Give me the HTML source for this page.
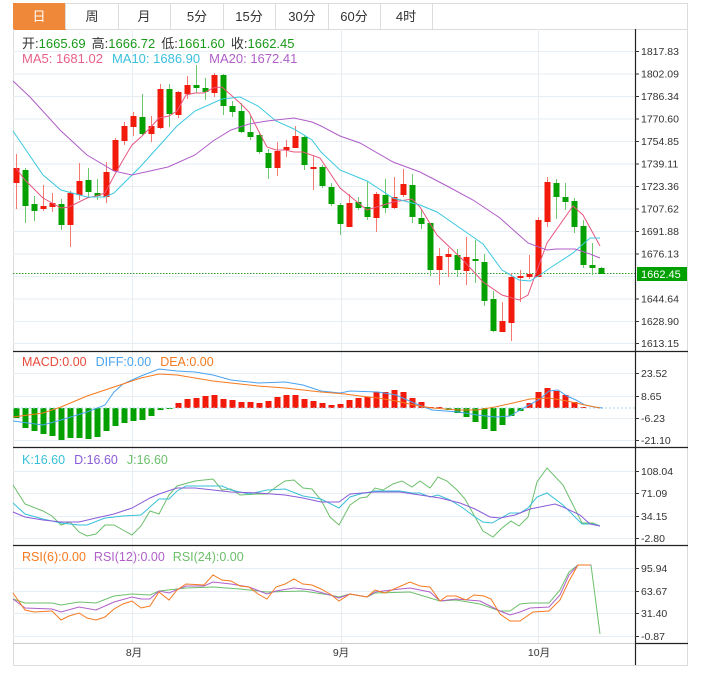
<!DOCTYPE html>
<html><head><meta charset="utf-8"><style>
html,body{margin:0;padding:0;background:#fff;}
svg{display:block;font-family:"Liberation Sans","Noto Sans CJK SC",sans-serif;}
</style></head><body>
<svg id="s" width="703" height="678" viewBox="0 0 703 678" xmlns="http://www.w3.org/2000/svg">
<rect width="703" height="678" fill="#fff"/>
<rect x="13.5" y="3.5" width="674" height="26" fill="#fff" stroke="#dcdcdc"/>
<rect x="13.5" y="3.5" width="52" height="26" fill="#f0883a" stroke="#f0883a"/>
<g stroke="#dcdcdc"><line x1="65.5" y1="3" x2="65.5" y2="29"/><line x1="118.5" y1="3" x2="118.5" y2="29"/><line x1="170.5" y1="3" x2="170.5" y2="29"/><line x1="223.5" y1="3" x2="223.5" y2="29"/><line x1="275.5" y1="3" x2="275.5" y2="29"/><line x1="328.5" y1="3" x2="328.5" y2="29"/><line x1="380.5" y1="3" x2="380.5" y2="29"/><line x1="432.5" y1="3" x2="432.5" y2="29"/></g>
<g font-size="13" fill="#333" text-anchor="middle">
<text x="39" y="21" fill="#fff">日</text><text x="92" y="21">周</text><text x="144" y="21">月</text><text x="197" y="21">5分</text><text x="249" y="21">15分</text><text x="302" y="21">30分</text><text x="354" y="21">60分</text><text x="406" y="21">4时</text>
</g>
<line x1="13.5" y1="29" x2="13.5" y2="665" stroke="#dcdcdc"/>
<line x1="687.5" y1="29" x2="687.5" y2="665" stroke="#dcdcdc"/>
<line x1="13" y1="665.5" x2="688" y2="665.5" stroke="#dcdcdc"/>
<g id="grid" stroke="#e6eef3" stroke-width="1"></g>
<g id="plot"></g>
<g stroke="#222" stroke-width="1.2">
<line x1="13" y1="351.5" x2="688" y2="351.5"/><line x1="13" y1="447.5" x2="688" y2="447.5"/><line x1="13" y1="545.5" x2="688" y2="545.5"/><line x1="635.5" y1="29" x2="635.5" y2="665"/><line x1="635" y1="643.5" x2="688" y2="643.5"/>
</g>
<line x1="13" y1="643.5" x2="635" y2="643.5" stroke="#ccc"/>
<g id="axis" font-size="10.5" fill="#333"></g>
<rect x="637" y="267" width="50" height="14" fill="#00a000"/>
<text x="641" y="278" font-size="11" fill="#fff">1662.45</text>
<g font-size="10.5" fill="#333" text-anchor="middle"><text x="134" y="656">8月</text><text x="341" y="656">9月</text><text x="539" y="656">10月</text></g>
<g font-size="13">
<text x="22" y="48"><tspan fill="#333">开:</tspan><tspan fill="#1a9a1a">1665.69</tspan><tspan fill="#333" dx="6">高:</tspan><tspan fill="#1a9a1a">1666.72</tspan><tspan fill="#333" dx="6">低:</tspan><tspan fill="#1a9a1a">1661.60</tspan><tspan fill="#333" dx="6">收:</tspan><tspan fill="#1a9a1a">1662.45</tspan></text>
<text x="22" y="63"><tspan fill="#e8608a">MA5: 1681.02</tspan><tspan fill="#3ac0dc" dx="9">MA10: 1686.90</tspan><tspan fill="#b060c8" dx="9">MA20: 1672.41</tspan></text>
</g>
<g font-size="12.5">
<text x="22" y="366"><tspan fill="#e84a3c">MACD:0.00</tspan><tspan fill="#4aa3f0" dx="9">DIFF:0.00</tspan><tspan fill="#f57a20" dx="9">DEA:0.00</tspan></text>
<text x="22" y="464"><tspan fill="#38c0d8">K:16.60</tspan><tspan fill="#8a5cd8" dx="9">D:16.60</tspan><tspan fill="#6cbf6c" dx="9">J:16.60</tspan></text>
<text x="22" y="561"><tspan fill="#f57a20">RSI(6):0.00</tspan><tspan fill="#b060c8" dx="8">RSI(12):0.00</tspan><tspan fill="#6cbf6c" dx="8">RSI(24):0.00</tspan></text>
</g>
</svg>
<script>
var NS="http://www.w3.org/2000/svg";
function el(p,t,a){var e=document.createElementNS(NS,t);for(var k in a)e.setAttribute(k,a[k]);document.getElementById(p).appendChild(e);return e;}
var py=[51,73.5,96,118.5,141,163.5,186,208.5,231,253.5,276,298.5,321,343];
var pl=["1817.83","1802.09","1786.34","1770.60","1754.85","1739.11","1723.36","1707.62","1691.88","1676.13","","1644.64","1628.90","1613.15"];
var others=[[373,"23.52"],[396,"8.65"],[418,"-6.23"],[440,"-21.10"],[471,"108.04"],[493,"71.09"],[516,"34.15"],[538,"-2.80"],[568,"95.94"],[591,"63.67"],[613,"31.40"],[636,"-0.87"]];
py.forEach(function(y,i){el("grid","line",{x1:13,x2:635,y1:y+.5,y2:y+.5});if(pl[i]){el("axis","line",{x1:635,x2:639,y1:y+.5,y2:y+.5,stroke:"#333"});el("axis","text",{x:641,y:y+4}).textContent=pl[i];}});
others.forEach(function(o){el("grid","line",{x1:13,x2:635,y1:o[0]+.5,y2:o[0]+.5});el("axis","line",{x1:635,x2:639,y1:o[0]+.5,y2:o[0]+.5,stroke:"#333"});el("axis","text",{x:641,y:o[0]+4}).textContent=o[1];});
[132.5,341.5,538.5].forEach(function(x){el("grid","line",{x1:x,x2:x,y1:29,y2:643});});
el("plot","line",{x1:13,x2:635,y1:273.5,y2:273.5,stroke:"#2ca02c","stroke-dasharray":"1.5,1.5"});
var R="#f21a0b",G="#04a000";
var C=[[168,183,154,209,R],[170,206,168,223,G],[204,211,196,221,G],[206,209,185,211,R],[203,207,193,212,R],[204,225,199,230,G],[193,225,191,247,R],[181,195,163,200,R],[180,192,168,197,G],[193,196,179,200,G],[172,197,162,203,R],[140,171,138,172,R],[126,141,122,145,R],[116,127,112,136,R],[117,134,94,135,G],[126,134,116,142,R],[89,128,84,129,R],[89,114,84,127,G],[92,115,91,118,R],[85,94,76,99,R],[85,88,65,93,G],[88,92,78,100,G],[75,93,73,97,R],[75,106,74,115,G],[106,112,101,117,G],[111,132,103,133,G],[132,137,116,140,G],[135,152,132,154,G],[153,168,149,179,G],[151,168,142,176,R],[147,150,140,157,R],[136,148,126,148,R],[137,165,135,170,G],[167,169,155,190,R],[167,186,165,188,G],[187,204,183,206,G],[205,224,203,235,G],[203,227,194,227,R],[202,208,197,210,G],[207,217,181,220,G],[194,218,192,232,R],[195,208,179,213,G],[197,208,177,209,R],[184,195,169,197,R],[185,217,174,223,G],[218,224,209,229,G],[223,270,223,276,G],[256,270,248,285,R],[254,257,248,277,R],[255,270,249,277,G],[257,271,237,285,R],[259,261,240,283,G],[262,301,254,306,G],[299,331,291,332,G],[321,332,302,332,R],[277,323,273,341,R],[276,278,270,302,R],[274,277,255,279,R],[220,277,217,277,R],[182,222,177,227,R],[183,197,179,219,G],[197,202,183,210,G],[201,227,198,233,G],[226,265,220,268,G],[265,268,243,275,G],[268,274,267,274,G]];
C.forEach(function(c,i){var x=16+9*i;var col=c[4];var wc=col==R?"#f57a70":"#6cc86c";
el("plot","line",{x1:x+.5,x2:x+.5,y1:c[2],y2:c[3],stroke:wc,"stroke-width":1});
el("plot","rect",{x:x-2.5,y:c[0],width:6,height:Math.max(2,c[1]-c[0]),fill:col});});
function pl2(pts,col,w){el("plot","polyline",{points:pts.map(function(p){return p.join(",")}).join(" "),fill:"none",stroke:col,"stroke-width":w||1});}
pl2([[16,168],[25,180],[43,198],[61,208],[69,207],[87,198],[96,196],[105,193],[114,176],[123,160],[132,145],[141,137],[150,128],[159,118],[169,116],[177,111],[186,95],[195,93],[204,93],[213,88],[222,87],[231,95],[240,103],[249,112],[258,130],[267,147],[276,150],[285,150],[294,152],[303,152],[320,158],[340,188],[367,210],[393,202],[412,199],[420,207],[437,235],[463,260],[483,282],[502,295],[519,300],[528,295],[547,243],[573,206],[583,215],[600,246]],"#e8557f");
pl2([[13,131],[43,175],[61,190],[87,197],[105,197],[114,193],[141,166],[159,146],[177,126],[195,111],[222,99],[240,97],[258,106],[276,121],[294,129],[312,140],[321,152],[340,170],[367,181],[393,198],[420,205],[437,212],[463,230],[483,244],[502,270],[519,280],[530,281],[540,275],[550,268],[573,253],[590,238],[600,238]],"#3bc8e0");
pl2([[13,81],[30,97],[60,130],[87,155],[114,171],[132,175],[150,171],[168,167],[195,155],[213,141],[231,130],[249,124],[267,121],[294,118],[312,122],[321,126],[340,136],[360,143],[393,162],[420,172],[447,186],[473,200],[500,218],[510,227],[528,243],[547,250],[556,249],[575,249],[590,254],[600,258]],"#b05cc8");
var Z=408;
var M={0:418,1:428,2:431,3:434,4:436,5:440,6:438,7:438,8:439,9:437,10:431,11:426,12:423,13:421,14:420,15:416,16:410,17:409,18:403,19:399,20:398,21:396,22:395,23:399,24:400,25:402,26:402,27:403,28:401,29:397,30:395,31:395,32:399,33:401,34:403,35:405,36:404,37:400,38:398,39:397,40:392,41:392,42:390,43:392,44:398,45:402,46:407,47:407,48:410,49:413,50:417,51:422,52:429,53:431,54:425,55:416,56:411,57:403,58:392,59:388,60:391,61:395,62:402,63:407};
for(var i in M){var v=M[i],x=16+9*i,col=v>Z?G:R;var y=Math.min(v,Z),h=Math.max(1,Math.abs(v-Z));el("plot","rect",{x:x-2.5,y:y,width:6,height:h,fill:col});}
el("plot","line",{x1:13,x2:635,y1:408,y2:408,stroke:"#a8d8f0","stroke-dasharray":"2,2"});
pl2([[13,421],[43,425],[61,420],[87,412],[105,405],[114,392],[123,384],[141,376],[159,369],[177,371],[195,372],[213,375],[231,380],[258,383],[285,382],[303,385],[321,391],[340,393],[350,391],[378,392],[396,395],[414,403],[432,410],[459,412],[477,415],[495,417],[510,416],[520,410],[540,399],[549,391],[558,390],[567,396],[576,400],[585,405],[594,407],[603,408]],"#4aa3f0");
pl2([[13,417],[43,413],[61,407],[87,396],[114,387],[141,378],[159,374],[177,375],[195,378],[213,381],[231,383],[258,386],[285,388],[303,390],[321,392],[345,394],[360,396],[378,398],[396,401],[414,405],[432,408],[459,410],[477,410],[495,407],[513,403],[530,399],[549,398],[567,401],[585,405],[600,408]],"#f57a20");
pl2([[13,485],[25,504],[43,511],[52,516],[61,525],[70,522],[79,532],[87,536],[96,534],[105,525],[114,525],[123,530],[132,535],[141,526],[150,511],[159,514],[169,495],[177,486],[195,481],[213,479],[222,490],[231,489],[240,495],[258,494],[267,494],[276,487],[285,481],[294,480],[303,488],[312,489],[321,500],[330,517],[339,525],[350,505],[360,498],[367,497],[375,488],[383,490],[393,484],[402,481],[412,487],[420,481],[430,488],[438,477],[447,481],[457,490],[465,499],[475,517],[483,531],[493,537],[502,528],[511,521],[519,526],[528,517],[537,482],[547,468],[563,485],[582,523],[593,523],[600,526]],"#6cbf6c");
pl2([[13,503],[25,514],[43,519],[61,523],[79,525],[87,525],[105,518],[123,516],[141,515],[159,499],[169,499],[177,491],[186,486],[204,486],[222,486],[231,490],[249,494],[267,490],[285,489],[303,496],[321,499],[339,508],[350,497],[360,494],[375,491],[400,491],[412,493],[420,493],[430,497],[438,495],[450,500],[463,508],[475,517],[483,522],[492,523],[510,513],[520,513],[528,508],[537,497],[547,493],[563,505],[582,524],[593,524],[600,526]],"#38c0d8");
pl2([[13,512],[25,517],[43,520],[61,522],[79,522],[96,518],[114,514],[132,508],[150,498],[159,494],[177,488],[195,488],[213,490],[231,492],[258,493],[285,495],[303,498],[321,502],[339,502],[350,494],[375,492],[400,492],[420,495],[440,498],[460,503],[475,509],[490,517],[500,518],[515,515],[530,509],[545,506],[555,504],[563,507],[580,515],[590,524],[600,526]],"#8a5cd8");
pl2([[13,599],[25,603],[52,603],[61,605],[79,602],[96,603],[114,596],[132,594],[150,595],[159,591],[186,588],[213,587],[240,589],[267,592],[303,591],[330,595],[339,597],[350,594],[367,597],[375,593],[410,592],[440,601],[456,600],[480,604],[500,611],[510,611],[520,604],[530,603],[549,603],[560,590],[569,572],[578,565],[591,565],[600,634]],"#6cbf6c");
pl2([[13,599],[25,608],[52,609],[61,612],[79,607],[96,610],[114,602],[132,597],[141,599],[150,599],[159,591],[169,593],[186,586],[204,586],[213,582],[231,584],[249,587],[267,594],[276,591],[294,588],[312,590],[330,595],[339,598],[350,594],[367,597],[375,592],[400,589],[410,588],[430,592],[440,601],[456,599],[480,601],[500,611],[510,615],[520,612],[530,608],[549,607],[560,595],[569,575],[578,565],[591,565]],"#b060c8");
pl2([[13,593],[25,610],[34,612],[52,611],[61,620],[69,616],[79,613],[87,618],[96,620],[105,617],[114,609],[123,604],[132,601],[141,608],[150,606],[159,592],[169,600],[177,590],[186,584],[204,585],[213,575],[222,580],[231,581],[240,586],[249,587],[258,594],[267,599],[276,587],[285,584],[294,579],[303,584],[312,585],[321,589],[330,594],[339,601],[350,594],[367,597],[375,590],[385,593],[410,582],[420,586],[430,587],[440,601],[447,596],[456,596],[466,600],[474,595],[484,596],[491,599],[500,614],[510,621],[520,621],[533,612],[549,611],[560,600],[569,581],[578,565],[590,565]],"#f57a20");
</script>
</body></html>
